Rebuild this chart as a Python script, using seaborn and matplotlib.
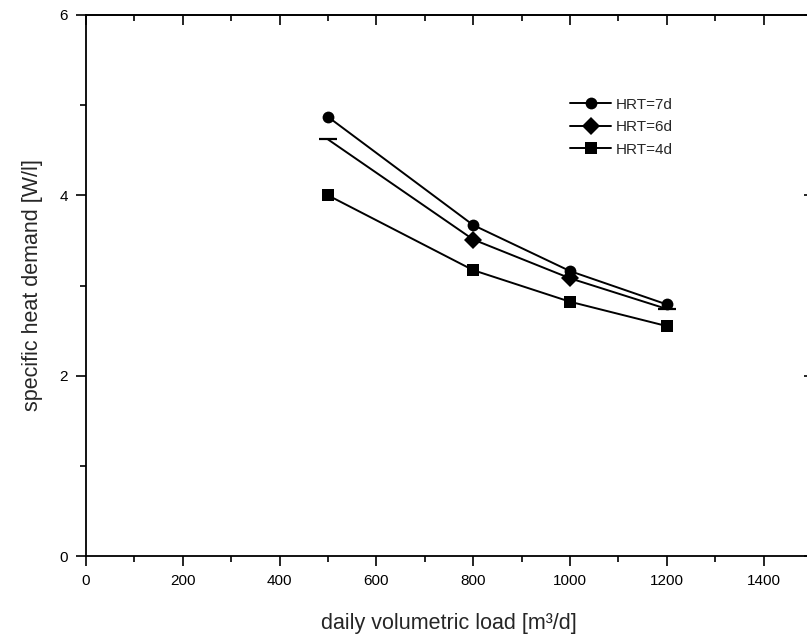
import numpy as np
import pandas as pd
import seaborn as sns
import matplotlib.pyplot as plt
from matplotlib.lines import Line2D
from matplotlib.ticker import MultipleLocator

# data
load = [500, 800, 1000, 1200]
hrt7 = [4.87, 3.67, 3.16, 2.79]
hrt6 = [4.62, 3.51, 3.08, 2.74]
hrt4 = [4.00, 3.17, 2.82, 2.55]
labels = ['HRT=7d', 'HRT=6d', 'HRT=4d']

sns.set_theme(style='ticks')
plt.rcParams['font.family'] = ['Liberation Sans', 'DejaVu Sans']

fig = plt.figure(figsize=(8.07, 6.39), dpi=100)
ax = fig.add_axes([86/807, 83/639, 726/807, 541/639])

lw = 1.4
sns.lineplot(x=load, y=hrt7, ax=ax, color='black', linewidth=lw,
             marker='o', markersize=8.5, markeredgewidth=0)
sns.lineplot(x=load, y=hrt6, ax=ax, color='black', linewidth=lw,
             marker='D', markersize=9, markeredgewidth=0, markevery=[1, 2])
# HRT=6d ends are drawn as short dashes in the original
sns.scatterplot(x=[load[0], load[3]], y=[hrt6[0], hrt6[3]], ax=ax, color='black',
                marker='_', s=160, linewidth=1.6)
sns.lineplot(x=load, y=hrt4, ax=ax, color='black', linewidth=lw,
             marker='s', markersize=8, markeredgewidth=0)

ax.set_xlim(0, 1500)
ax.set_ylim(0, 6)
ax.xaxis.set_major_locator(MultipleLocator(200))
ax.xaxis.set_minor_locator(MultipleLocator(100))
ax.yaxis.set_major_locator(MultipleLocator(2))
ax.yaxis.set_minor_locator(MultipleLocator(1))

for s in ax.spines.values():
    s.set_color('black')
    s.set_linewidth(1.3)

ax.tick_params(which='both', direction='out', color='black', width=1.2,
               labelsize=11, labelcolor='black', pad=6)
ax.tick_params(which='major', length=7)
ax.tick_params(which='minor', length=4)

# inward ticks on top and right
top = ax.secondary_xaxis('top')
top.xaxis.set_major_locator(MultipleLocator(200))
top.xaxis.set_minor_locator(MultipleLocator(100))
top.tick_params(which='both', direction='in', color='black', width=1.2, labeltop=False)
top.tick_params(which='major', length=7)
top.tick_params(which='minor', length=4)
top.spines['top'].set_linewidth(1.3)

right = ax.secondary_yaxis('right')
right.yaxis.set_major_locator(MultipleLocator(2))
right.tick_params(which='both', direction='in', color='black', width=1.2,
                  length=6, labelright=False)
right.spines['right'].set_linewidth(1.3)

ax.set_xlabel('daily volumetric load [m³/d]', fontsize=15.5, labelpad=18)
ax.set_ylabel('specific heat demand [W/l]', fontsize=15.5, labelpad=12)

handles = [
    Line2D([], [], color='black', linewidth=lw, marker='o', markersize=8.5, markeredgewidth=0),
    Line2D([], [], color='black', linewidth=lw, marker='D', markersize=9, markeredgewidth=0),
    Line2D([], [], color='black', linewidth=lw, marker='s', markersize=8, markeredgewidth=0),
]
ax.legend(handles, labels, loc='upper left', bbox_to_anchor=(0.667, 0.847),
          frameon=False, fontsize=11, handlelength=2.7, handletextpad=0.3,
          labelspacing=0.55, borderpad=0, borderaxespad=0)

fig.savefig('out.png', dpi=100)
